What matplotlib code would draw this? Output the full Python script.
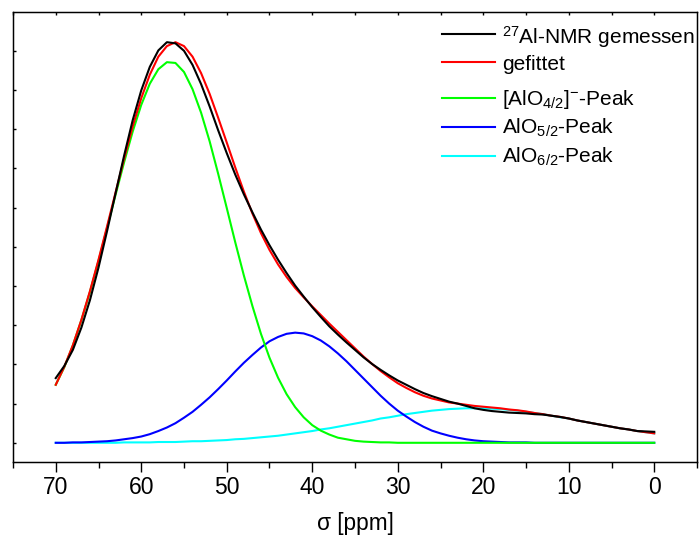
import numpy as np
import matplotlib
matplotlib.use('Agg')
import matplotlib.pyplot as plt
from matplotlib.lines import Line2D

plt.rcParams['font.family'] = ['Liberation Sans', 'DejaVu Sans']
plt.rcParams['mathtext.fontset'] = 'custom'
plt.rcParams['mathtext.rm'] = 'Liberation Sans'
plt.rcParams['mathtext.it'] = 'Liberation Sans:italic'

# chemical shift grid, 70 ... 0 ppm in 1 ppm steps
ppm = list(range(70, -1, -1))

# 27Al-NMR spectrum
measured = [1.65, 1.96, 2.37, 2.94, 3.64, 4.47, 5.40, 6.37, 7.33, 8.23,
            8.99, 9.59, 10.01, 10.22, 10.19, 10.00, 9.64, 9.15, 8.58, 7.97,
            7.39, 6.84, 6.34, 5.88, 5.44, 5.04, 4.67, 4.33, 4.01, 3.73,
            3.46, 3.21, 2.97, 2.76, 2.56, 2.37, 2.18, 2.01, 1.86, 1.72,
            1.59, 1.48, 1.37, 1.27, 1.19, 1.12, 1.05, 1.00, 0.94, 0.88,
            0.84, 0.81, 0.79, 0.77, 0.76, 0.75, 0.73, 0.72, 0.69, 0.66,
            0.62, 0.57, 0.53, 0.49, 0.45, 0.41, 0.37, 0.34, 0.30, 0.29,
            0.28]

fitted = [1.48, 1.94, 2.49, 3.14, 3.87, 4.67, 5.52, 6.39, 7.25, 8.07,
          8.79, 9.39, 9.85, 10.12, 10.22, 10.12, 9.85, 9.43, 8.90, 8.29,
          7.66, 7.02, 6.41, 5.85, 5.35, 4.92, 4.55, 4.23, 3.95, 3.71,
          3.48, 3.26, 3.04, 2.83, 2.62, 2.41, 2.20, 2.01, 1.83, 1.67,
          1.52, 1.40, 1.29, 1.20, 1.13, 1.08, 1.03, 1.00, 0.97, 0.94,
          0.92, 0.90, 0.88, 0.85, 0.83, 0.80, 0.76, 0.73, 0.69, 0.66,
          0.62, 0.57, 0.53, 0.49, 0.45, 0.41, 0.37, 0.34, 0.30, 0.27,
          0.24]

peak_alo4 = [1.48, 1.93, 2.48, 3.13, 3.85, 4.64, 5.48, 6.33, 7.16, 7.94,
             8.62, 9.16, 9.53, 9.71, 9.69, 9.46, 9.02, 8.42, 7.69, 6.86,
             5.99, 5.11, 4.27, 3.49, 2.78, 2.17, 1.66, 1.24, 0.91, 0.65,
             0.45, 0.31, 0.21, 0.13, 0.09, 0.05, 0.03, 0.02, 0.01, 0.01,
             0.00, 0.00, 0.00, 0.00, 0.00, 0.00, 0.00, 0.00, 0.00, 0.00,
             0.00, 0.00, 0.00, 0.00, 0.00, 0.00, 0.00, 0.00, 0.00, 0.00,
             0.00, 0.00, 0.00, 0.00, 0.00, 0.00, 0.00, 0.00, 0.00, 0.00,
             0.00]

peak_alo5 = [0.00, 0.00, 0.01, 0.01, 0.02, 0.03, 0.04, 0.06, 0.09, 0.12,
             0.16, 0.22, 0.30, 0.39, 0.50, 0.64, 0.79, 0.97, 1.16, 1.37,
             1.59, 1.82, 2.04, 2.24, 2.43, 2.59, 2.70, 2.78, 2.81, 2.79,
             2.72, 2.61, 2.46, 2.28, 2.08, 1.86, 1.64, 1.42, 1.20, 1.00,
             0.82, 0.67, 0.53, 0.41, 0.31, 0.24, 0.18, 0.13, 0.09, 0.06,
             0.04, 0.03, 0.02, 0.01, 0.01, 0.01, 0.00, 0.00, 0.00, 0.00,
             0.00, 0.00, 0.00, 0.00, 0.00, 0.00, 0.00, 0.00, 0.00, 0.00,
             0.00]

peak_alo6 = [0.00, 0.00, 0.00, 0.00, 0.00, 0.00, 0.00, 0.00, 0.01, 0.01,
             0.01, 0.01, 0.02, 0.02, 0.02, 0.03, 0.04, 0.04, 0.05, 0.06,
             0.07, 0.09, 0.10, 0.12, 0.14, 0.16, 0.18, 0.21, 0.24, 0.27,
             0.30, 0.34, 0.37, 0.41, 0.45, 0.49, 0.53, 0.57, 0.62, 0.65,
             0.69, 0.73, 0.76, 0.79, 0.82, 0.84, 0.86, 0.87, 0.88, 0.88,
             0.88, 0.87, 0.86, 0.84, 0.82, 0.79, 0.76, 0.73, 0.69, 0.65,
             0.62, 0.57, 0.53, 0.49, 0.45, 0.41, 0.37, 0.34, 0.30, 0.27,
             0.24]

labels = [r'$^{27}$Al-NMR gemessen', 'gefittet', r'[AlO$_{4/2}$]$^{-}$-Peak',
          r'AlO$_{5/2}$-Peak', r'AlO$_{6/2}$-Peak']
colors = ['#000000', '#ff0000', '#00ff00', '#0000ff', '#00ffff']
curves = [measured, fitted, peak_alo4, peak_alo5, peak_alo6]

fig = plt.figure(figsize=(6.99, 5.42), dpi=100)
ax = fig.add_axes([13 / 699, 1 - 462 / 542, 684 / 699, 450 / 542])

# draw components first so the measured spectrum ends up on top
for y, col in list(zip(curves, colors))[::-1]:
    ax.plot(ppm, y, color=col, lw=1.5)

ax.set_xlim(74.95, -4.65)
ax.set_ylim(-0.49, 10.99)
ax.set_xticks(np.arange(0, 71, 10))
ax.set_xticks(np.arange(-5, 76, 5), minor=True)
ax.tick_params(axis='x', which='major', direction='out', length=7.2, width=1,
               labelsize=16.5, pad=3)
ax.tick_params(axis='x', which='minor', direction='out', length=4.3, width=1)
ax.set_yticks(np.arange(0, 11, 1))
ax.tick_params(axis='y', direction='in', length=2.2, width=1, labelleft=False)
for s in ax.spines.values():
    s.set_linewidth(1)
ax.set_xlabel('σ [ppm]', fontsize=16.3, labelpad=9)

# short inward ticks along the top edge
top = ax.twiny()
top.set_xlim(ax.get_xlim())
top.set_xticks(np.arange(0, 76, 5))
top.tick_params(axis='x', direction='in', length=2.2, width=1, labeltop=False)

# legend by hand, the rows are unevenly spaced in the original
rows = [34, 61.7, 98.3, 126.7, 155.7]
bases = [43.3, 70, 105, 133.3, 162.3]
for lab, col, ry, by in zip(labels, colors, rows, bases):
    fy = 1 - (ry - 12) / 450
    ax.add_line(Line2D([(442 - 13) / 684, (495 - 13) / 684], [fy, fy],
                       transform=ax.transAxes, color=col, lw=1.5))
    ax.text((502 - 13) / 684, 1 - (by - 12) / 450, lab, transform=ax.transAxes,
            fontsize=15, va='baseline', ha='left')

fig.savefig('out.png', dpi=100)
